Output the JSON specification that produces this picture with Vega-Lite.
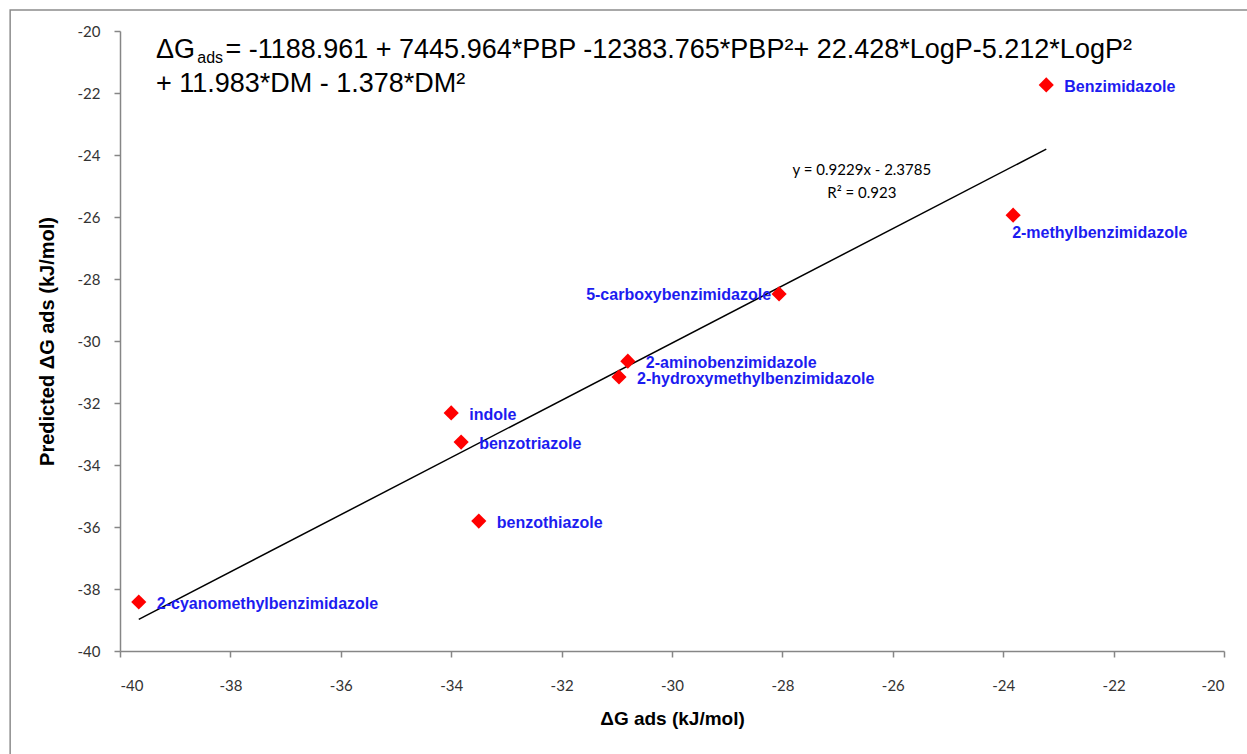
{
  "$schema": "https://vega.github.io/schema/vega-lite/v6.json",
  "width": 1104,
  "height": 620,
  "autosize": {"type": "none"},
  "padding": {"left": 120, "top": 31, "right": 23, "bottom": 103},
  "background": "white",
  "config": {
    "view": {"stroke": null},
    "axis": {
      "grid": false,
      "domainColor": "#868686",
      "domainWidth": 1.5,
      "tickColor": "#868686",
      "tickWidth": 1.5,
      "tickSize": 6,
      "labelFont": "Lato",
      "labelFontSize": 15,
      "labelColor": "#333333",
      "titleFont": "Liberation Sans",
      "titleFontSize": 19,
      "titleFontWeight": "bold",
      "titleColor": "#000000"
    }
  },
  "datasets": {
    "pts": [
      {"name": "Benzimidazole", "exp": -23.22, "pred": -21.74, "pos": "right"},
      {"name": "2-methylbenzimidazole", "exp": -23.82, "pred": -25.94, "pos": "below"},
      {"name": "5-carboxybenzimidazole", "exp": -28.06, "pred": -28.48, "pos": "left"},
      {"name": "2-aminobenzimidazole", "exp": -30.80, "pred": -30.65, "pos": "right"},
      {"name": "2-hydroxymethylbenzimidazole", "exp": -30.96, "pred": -31.16, "pos": "right"},
      {"name": "indole", "exp": -34.00, "pred": -32.32, "pos": "right"},
      {"name": "benzotriazole", "exp": -33.82, "pred": -33.26, "pos": "right"},
      {"name": "benzothiazole", "exp": -33.50, "pred": -35.81, "pos": "right"},
      {"name": "2-cyanomethylbenzimidazole", "exp": -39.66, "pred": -38.42, "pos": "right"}
    ],
    "trend": [
      {"exp": -39.66, "pred": -38.98},
      {"exp": -23.22, "pred": -23.81}
    ]
  },
  "layer": [
    {
      "data": {"values": [{"x1": -41.99, "x2": -19.0, "y1": -19.32, "y2": -45.0}]},
      "mark": {"type": "rect", "fill": null, "fillOpacity": 0, "stroke": "#8c8c8c", "strokeWidth": 1.5},
      "encoding": {
        "x": {"field": "x1", "type": "quantitative"},
        "x2": {"field": "x2"},
        "y": {"field": "y1", "type": "quantitative"},
        "y2": {"field": "y2"}
      }
    },
    {
      "data": {"name": "trend"},
      "mark": {"type": "line", "color": "#000000", "strokeWidth": 1.5},
      "encoding": {
        "x": {"field": "exp", "type": "quantitative",
          "scale": {"domain": [-40, -20], "nice": false, "zero": false},
          "axis": {"values": [-40, -38, -36, -34, -32, -30, -28, -26, -24, -22, -20],
            "labelExpr": "datum.value + ''", "labelPadding": 21,
            "title": "ΔG ads (kJ/mol)", "titlePadding": 16}},
        "y": {"field": "pred", "type": "quantitative",
          "scale": {"domain": [-40, -20], "nice": false, "zero": false},
          "axis": {"values": [-40, -38, -36, -34, -32, -30, -28, -26, -24, -22, -20],
            "labelExpr": "datum.value + ''", "labelPadding": 14,
            "title": "Predicted ΔG ads (kJ/mol)", "titleFontSize": 20, "titlePadding": 20}}
      }
    },
    {
      "data": {"name": "pts"},
      "mark": {"type": "point", "shape": "diamond", "filled": true, "color": "#ff0000", "size": 230, "opacity": 1},
      "encoding": {
        "x": {"field": "exp", "type": "quantitative"},
        "y": {"field": "pred", "type": "quantitative"}
      }
    },
    {
      "data": {"name": "pts"},
      "transform": [{"filter": "datum.pos == 'right'"}],
      "mark": {"type": "text", "align": "left", "baseline": "middle", "dx": 18, "dy": 2,
        "font": "Liberation Sans", "fontWeight": "bold", "fontSize": 16, "color": "#1c1cf0"},
      "encoding": {
        "x": {"field": "exp", "type": "quantitative"},
        "y": {"field": "pred", "type": "quantitative"},
        "text": {"field": "name"}
      }
    },
    {
      "data": {"name": "pts"},
      "transform": [{"filter": "datum.pos == 'below'"}],
      "mark": {"type": "text", "align": "left", "baseline": "middle", "dx": -1, "dy": 18,
        "font": "Liberation Sans", "fontWeight": "bold", "fontSize": 16, "color": "#1c1cf0"},
      "encoding": {
        "x": {"field": "exp", "type": "quantitative"},
        "y": {"field": "pred", "type": "quantitative"},
        "text": {"field": "name"}
      }
    },
    {
      "data": {"name": "pts"},
      "transform": [{"filter": "datum.pos == 'left'"}],
      "mark": {"type": "text", "align": "right", "baseline": "middle", "dx": -8, "dy": 1,
        "font": "Liberation Sans", "fontWeight": "bold", "fontSize": 16, "color": "#1c1cf0"},
      "encoding": {
        "x": {"field": "exp", "type": "quantitative"},
        "y": {"field": "pred", "type": "quantitative"},
        "text": {"field": "name"}
      }
    },
    {
      "data": {"values": [{"t": "y = 0.9229x - 2.3785", "x": -26.56, "y": -24.48}, {"t": "R² = 0.923", "x": -26.56, "y": -25.23}]},
      "mark": {"type": "text", "align": "center", "baseline": "middle", "font": "Lato", "fontSize": 15, "color": "#000000"},
      "encoding": {
        "x": {"field": "x", "type": "quantitative"},
        "y": {"field": "y", "type": "quantitative"},
        "text": {"field": "t"}
      }
    },
    {
      "data": {"values": [
        {"t": "ΔG", "x": -39.35, "y": -20.87},
        {"t": "= -1188.961 + 7445.964*PBP -12383.765*PBP²+ 22.428*LogP-5.212*LogP²", "x": -38.09, "y": -20.87},
        {"t": "+ 11.983*DM - 1.378*DM²", "x": -39.35, "y": -21.97}
      ]},
      "mark": {"type": "text", "align": "left", "baseline": "alphabetic", "font": "Liberation Sans", "fontSize": 27, "color": "#000000"},
      "encoding": {
        "x": {"field": "x", "type": "quantitative"},
        "y": {"field": "y", "type": "quantitative"},
        "text": {"field": "t"}
      }
    },
    {
      "data": {"values": [{"t": "ads", "x": -38.60, "y": -21.03}]},
      "mark": {"type": "text", "align": "left", "baseline": "alphabetic", "font": "Liberation Sans", "fontSize": 16, "color": "#000000"},
      "encoding": {
        "x": {"field": "x", "type": "quantitative"},
        "y": {"field": "y", "type": "quantitative"},
        "text": {"field": "t"}
      }
    }
  ]
}
